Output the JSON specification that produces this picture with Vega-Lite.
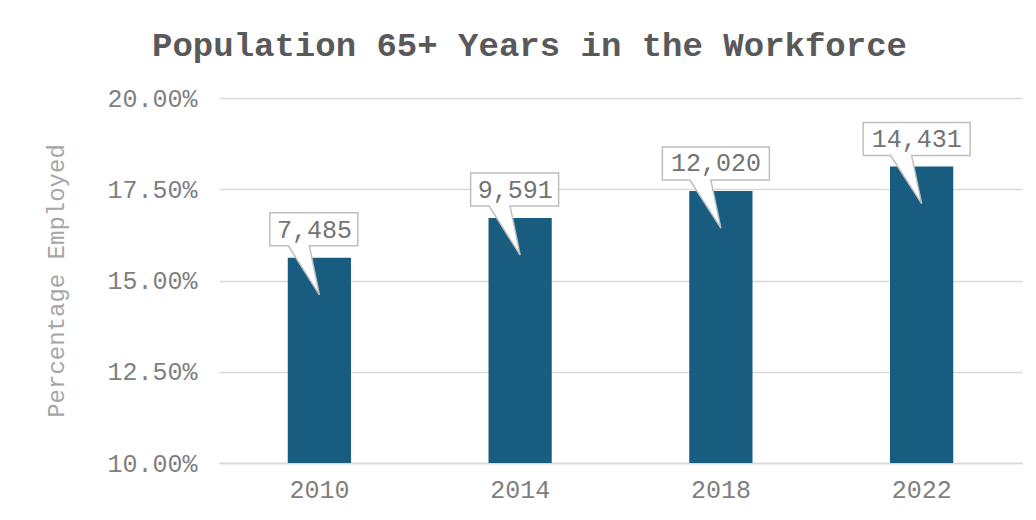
{
  "$schema": "https://vega.github.io/schema/vega-lite/v6.json",
  "width": 803,
  "height": 365,
  "autosize": {"type": "none"},
  "padding": {"left": 219, "top": 98, "right": 14, "bottom": 57},
  "background": "white",
  "config": {
    "font": "Liberation Mono",
    "view": {"stroke": null}
  },
  "title": {
    "text": "Population 65+ Years in the Workforce",
    "font": "Liberation Mono",
    "fontSize": 34,
    "fontWeight": "bold",
    "color": "#595959",
    "anchor": "middle",
    "frame": "group",
    "dx": -91,
    "baseline": "alphabetic",
    "offset": -4
  },
  "data": {
    "values": [
      {"year": "2010", "pct": 0.1562, "label": "7,485"},
      {"year": "2014", "pct": 0.1671, "label": "9,591"},
      {"year": "2018", "pct": 0.1745, "label": "12,020"},
      {"year": "2022", "pct": 0.1812, "label": "14,431"}
    ]
  },
  "encoding": {
    "x": {
      "field": "year",
      "type": "ordinal",
      "scale": {"paddingInner": 0.685, "paddingOuter": 0.3425},
      "axis": {
        "title": null,
        "labelAngle": 0,
        "labelFontSize": 25,
        "labelColor": "#7f7f7f",
        "labelPadding": 14,
        "ticks": false,
        "domainColor": "#d9d9d9",
        "domainWidth": 1.5
      }
    },
    "y": {
      "field": "pct",
      "type": "quantitative",
      "scale": {"domain": [0.1, 0.2], "zero": false, "nice": false},
      "axis": {
        "title": "Percentage Employed",
        "titleFontSize": 24,
        "titleFontWeight": "normal",
        "titleColor": "#a6a6a6",
        "titlePadding": 38,
        "values": [0.1, 0.125, 0.15, 0.175, 0.2],
        "format": ".2%",
        "labelFontSize": 25,
        "labelColor": "#7f7f7f",
        "labelPadding": 22,
        "ticks": false,
        "domain": false,
        "grid": true,
        "gridColor": "#d9d9d9",
        "gridWidth": 1.5
      }
    }
  },
  "layer": [
    {
      "mark": {"type": "bar", "color": "#185d7f"},
      "encoding": {"y2": {"datum": 0.1}}
    },
    {
      "mark": {"type": "point", "filled": true, "fill": "white", "stroke": "#bfbfbf", "strokeWidth": 1.5, "opacity": 1, "size": 4},
      "encoding": {
        "shape": {
          "condition": {
            "test": "length(datum.label) > 5",
            "value": "M -58.5 -44 L 48.5 -44 L 48.5 -11 L -10 -11 L 0 37 L -31 -11 L -58.5 -11 Z"
          },
          "value": "M -49.5 -45 L 38.5 -45 L 38.5 -12 L -10 -12 L 0 37 L -31 -12 L -49.5 -12 Z"
        }
      }
    },
    {
      "mark": {"type": "text", "fontSize": 25, "color": "#737373", "baseline": "middle", "align": "center", "dx": -5, "dy": -28},
      "encoding": {"text": {"field": "label"}}
    }
  ]
}
